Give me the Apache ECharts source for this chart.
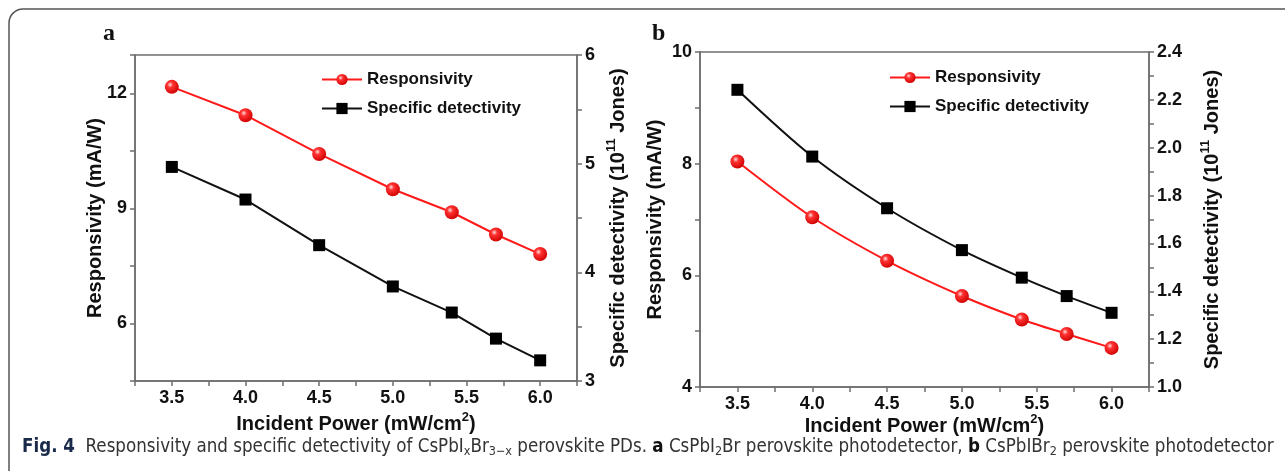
<!DOCTYPE html>
<html>
<head>
<meta charset="utf-8">
<script src="https://cdn.jsdelivr.net/npm/echarts@6/dist/echarts.min.js"></script>
<style>
  html, body { margin: 0; padding: 0; background: #fff; }
  #chart { width: 1285px; height: 471px; }
</style>
</head>
<body>
<div id="chart"></div>
<script>
// données
const power = [3.5, 4.0, 4.5, 5.0, 5.4, 5.7, 6.0];
const respA = [12.17, 11.43, 10.42, 9.50, 8.90, 8.32, 7.81];
const detA = [4.97, 4.67, 4.25, 3.87, 3.63, 3.39, 3.19];
const respB = [8.04, 7.04, 6.26, 5.63, 5.21, 4.95, 4.70];
const detB = [2.242, 1.963, 1.747, 1.572, 1.457, 1.380, 1.310];
const legendNames = ['Responsivity', 'Specific detectivity'];

const chart = echarts.init(document.getElementById('chart'));

const FONT = 'Liberation Sans';
const CAPFONT = '"Liberation Sans Narrow", "DejaVu Sans Condensed", sans-serif';
const red = '#ff1a1a';
const redBall = {
    type: 'radial', x: 0.38, y: 0.35, r: 0.7,
    colorStops: [
        { offset: 0, color: '#ffe0e0' },
        { offset: 0.3, color: '#ff3030' },
        { offset: 1, color: '#cc0000' }
    ]
};

const axisLineStyle = { color: '#6e6e6e', width: 1.5 };
const tickLabel = { color: '#111', fontWeight: 'bold', fontSize: 18, fontFamily: FONT };
const nameStyle = {
    color: '#111', fontWeight: 'bold', fontSize: 20, fontFamily: FONT,
    rich: { sup: { fontSize: 13, fontWeight: 'bold', fontFamily: FONT, color: '#111', padding: [0, 0, 13, 0] } }
};

function xAxisFor(i, gap) {
    return {
        gridIndex: i, type: 'value', min: 3.25, max: 6.25, interval: 0.25,
        axisLine: { lineStyle: axisLineStyle },
        axisTick: { length: 5, lineStyle: axisLineStyle },
        splitLine: { show: false },
        axisLabel: Object.assign({}, tickLabel, {
            margin: 8,
            formatter: v => Math.abs(v * 2 - Math.round(v * 2)) < 1e-6 ? v.toFixed(1) : ''
        }),
        name: 'Incident Power (mW/cm{sup|2})',
        nameLocation: 'middle', nameGap: gap, nameMoveOverlap: false, nameTextStyle: nameStyle
    };
}

function yAxisFor(i, pos, min, max, interval, fmt, name, gap) {
    return {
        gridIndex: i, type: 'value', position: pos, min: min, max: max, interval: interval,
        axisLine: { show: true, lineStyle: axisLineStyle },
        axisTick: { length: 5, lineStyle: axisLineStyle },
        splitLine: { show: false },
        axisLabel: Object.assign({}, tickLabel, { margin: 8, formatter: fmt }),
        name: name, nameLocation: 'middle', nameRotate: 90, nameGap: gap, nameMoveOverlap: false,
        nameTextStyle: nameStyle
    };
}

function lineSeries(name, xi, yi, ys, smooth) {
    const isResp = name === 'Responsivity';
    return {
        name: name, type: 'line', xAxisIndex: xi, yAxisIndex: yi,
        data: power.map((p, k) => [p, ys[k]]),
        smooth: smooth,
        symbol: isResp ? 'circle' : 'rect',
        symbolSize: isResp ? 14 : 12,
        itemStyle: { color: isResp ? redBall : '#000', borderWidth: 0 },
        lineStyle: { color: isResp ? red : '#111', width: 2 },
        emphasis: { disabled: true },
        z: isResp ? 3 : 2
    };
}

const captionRich = {
    fig: { fontWeight: 'bold', fontSize: 18.6, fontFamily: CAPFONT, fill: '#1a2a4a' },
    b: { fontWeight: 'bold', fontSize: 18.6, fontFamily: CAPFONT, fill: '#111' },
    sub: { fontSize: 12.5, fontFamily: CAPFONT, fill: '#333', padding: [10, 0, 0, 0] }
};

const legendText = { color: '#111', fontWeight: 'bold', fontSize: 17, fontFamily: FONT };

const options = {
    animation: false,
    backgroundColor: '#fff',
    grid: [
        { left: 135, top: 55, width: 442, height: 326, show: true, borderColor: '#6e6e6e', borderWidth: 1.5 },
        { left: 700, top: 52, width: 449, height: 335, show: true, borderColor: '#6e6e6e', borderWidth: 1.5 }
    ],
    legend: [
        {
            left: 316, top: 66, orient: 'vertical', itemWidth: 40, itemHeight: 14, itemGap: 12,
            data: legendNames, selectedMode: false, textStyle: legendText
        },
        {
            left: 884, top: 64, orient: 'vertical', itemWidth: 40, itemHeight: 14, itemGap: 12,
            data: legendNames, selectedMode: false, textStyle: legendText
        }
    ],
    xAxis: [xAxisFor(0, 30), xAxisFor(1, 26)],
    yAxis: [
        yAxisFor(0, 'left', 4.5, 13, 1.5, v => (Math.abs(v % 3) < 1e-6 ? String(v) : ''),
            'Responsivity (mA/W)', 30),
        yAxisFor(0, 'right', 3, 6, 0.5, v => (Math.abs(v - Math.round(v)) < 1e-6 ? String(v) : ''),
            'Specific detectivity (10{sup|11} Jones)', 28),
        yAxisFor(1, 'left', 4, 10, 1, v => (Math.round(v) % 2 === 0 ? String(v) : ''),
            'Responsivity (mA/W)', 35),
        yAxisFor(1, 'right', 1.0, 2.4, 0.1, v => (Math.round(v * 10) % 2 === 0 ? v.toFixed(1) : ''),
            'Specific detectivity (10{sup|11} Jones)', 50)
    ],
    series: [
        lineSeries('Specific detectivity', 0, 1, detA, false),
        lineSeries('Responsivity', 0, 0, respA, false),
        lineSeries('Specific detectivity', 1, 3, detB, 0.3),
        lineSeries('Responsivity', 1, 2, respB, 0.3)
    ],
    graphic: [
        {
            type: 'rect', silent: true,
            shape: { x: 9, y: 9, width: 1300, height: 520, r: 14 },
            style: { fill: 'none', stroke: '#555', lineWidth: 1.5 }
        },
        {
            type: 'text', left: 103, top: 22,
            style: { text: 'a', font: 'bold 24px "Liberation Serif"', fill: '#111' }
        },
        {
            type: 'text', left: 652, top: 22,
            style: { text: 'b', font: 'bold 24px "Liberation Serif"', fill: '#111' }
        },
        {
            type: 'text', left: 22, top: 435,
            style: {
                text: '{fig|Fig. 4}  Responsivity and specific detectivity of CsPbI{sub|x}Br{sub|3−x} perovskite PDs. '
                    + '{b|a} CsPbI{sub|2}Br perovskite photodetector, {b|b} CsPbIBr{sub|2} perovskite photodetector',
                fontSize: 18.6, fontFamily: CAPFONT,
                fill: '#333', lineHeight: 24, rich: captionRich
            }
        }
    ]
};

chart.setOption(options);
</script>
</body>
</html>
